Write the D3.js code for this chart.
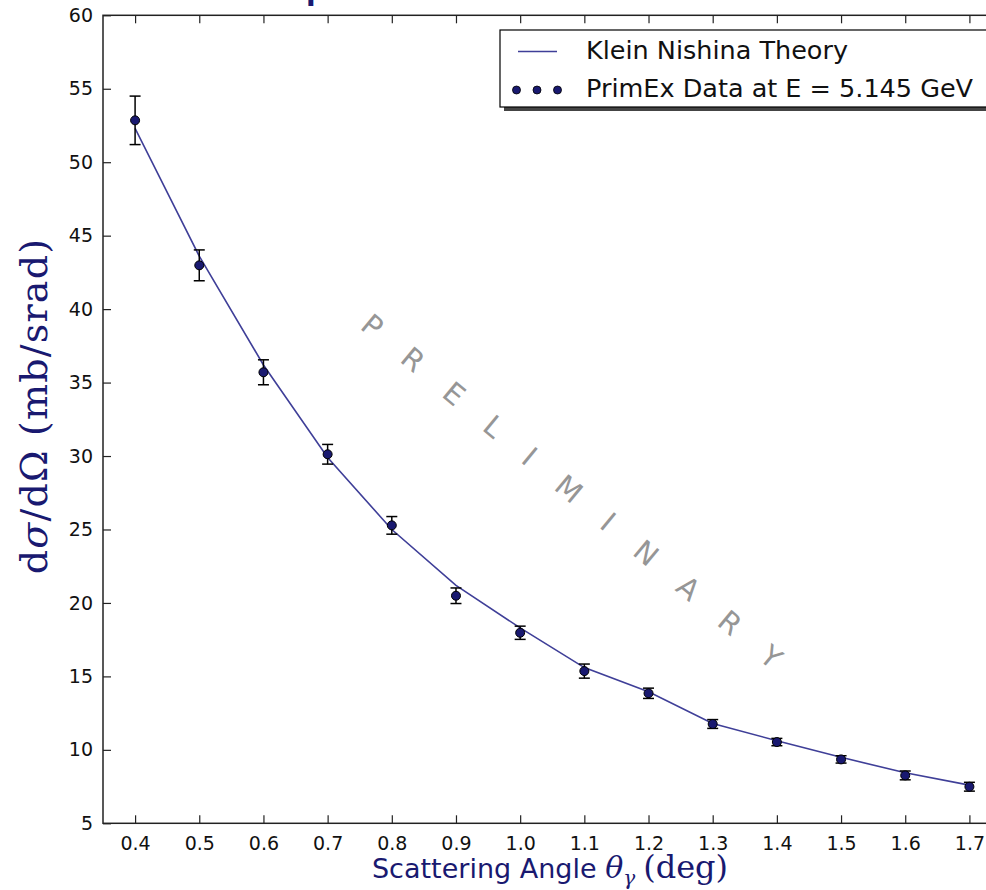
<!DOCTYPE html>
<html>
<head>
<meta charset="utf-8">
<script src="https://cdn.jsdelivr.net/npm/d3@7"></script>
<style>
  html, body { margin: 0; padding: 0; background: #fff; overflow: hidden; }
  svg { display: block; }
</style>
</head>
<body>
<svg id="chart" width="986" height="890"></svg>
<script>
// Scattering angles (deg)
const angles = [0.4, 0.5, 0.6, 0.7, 0.8, 0.9, 1.0, 1.1, 1.2, 1.3, 1.4, 1.5, 1.6, 1.7];
// Measured dσ/dΩ (mb/srad) and their errors
const dataValues = [52.85, 42.98, 35.70, 30.12, 25.28, 20.49, 17.97, 15.36, 13.85, 11.76, 10.53, 9.35, 8.26, 7.49];
const dataErrors = [1.65, 1.05, 0.85, 0.67, 0.60, 0.53, 0.45, 0.48, 0.35, 0.30, 0.25, 0.25, 0.30, 0.30];
// Klein-Nishina prediction at the same angles
const theoryValues = [52.3, 43.6, 36.2, 29.9, 25.0, 21.2, 18.3, 15.6, 13.95, 11.8, 10.62, 9.49, 8.44, 7.60];
// Axis ticks
const xTicks = [0.4, 0.5, 0.6, 0.7, 0.8, 0.9, 1.0, 1.1, 1.2, 1.3, 1.4, 1.5, 1.6, 1.7];
const yTicks = [5, 10, 15, 20, 25, 30, 35, 40, 45, 50, 55, 60];
const xDomain = [0.35, 1.75];
const yDomain = [5, 60];

const legendLabels = ["Klein Nishina Theory", "PrimEx Data at E = 5.145 GeV"];
const watermark = "P R E L I M I N A R Y";
const titleText = "Compton Cross Section";

const svg = d3.select("#chart");
const plot = { left: 103, top: 15.3, right: 1001.5, bottom: 823.3 };

const x = d3.scaleLinear().domain(xDomain).range([plot.left, plot.right]);
const y = d3.scaleLinear().domain(yDomain).range([plot.bottom, plot.top]);

const navy = "#191970";
const lineColor = "#3f3f98";

// title, sitting above the visible frame
const title = svg.append("text")
  .attr("y", 0)
  .attr("font-family", "DejaVu Sans")
  .attr("font-weight", "bold")
  .attr("font-size", 28)
  .attr("fill", navy)
  .text(titleText);
const comWidth = title.node().getSubStringLength(0, 3);
title.attr("x", 306 - comWidth);

// watermark
svg.append("text")
  .attr("transform", "translate(359,328) rotate(39.7)")
  .attr("font-family", "DejaVu Sans")
  .attr("font-size", 29)
  .attr("letter-spacing", 12.5)
  .attr("fill", "#969696")
  .text(watermark);

// theory curve
const line = d3.line().x((d, i) => x(angles[i])).y(d => y(d));
svg.append("path")
  .datum(theoryValues)
  .attr("d", line)
  .attr("fill", "none")
  .attr("stroke", lineColor)
  .attr("stroke-width", 1.6);

// error bars
const pts = angles.map((a, i) => ({ a, v: dataValues[i], e: dataErrors[i] }));
const eb = svg.append("g").attr("stroke", "#000").attr("stroke-width", 1.5);
eb.selectAll("line.v").data(pts).join("line")
  .attr("x1", d => x(d.a)).attr("x2", d => x(d.a))
  .attr("y1", d => y(d.v + d.e)).attr("y2", d => y(d.v - d.e));
eb.selectAll("line.t").data(pts).join("line")
  .attr("x1", d => x(d.a) - 5.5).attr("x2", d => x(d.a) + 5.5)
  .attr("y1", d => y(d.v + d.e)).attr("y2", d => y(d.v + d.e));
eb.selectAll("line.b").data(pts).join("line")
  .attr("x1", d => x(d.a) - 5.5).attr("x2", d => x(d.a) + 5.5)
  .attr("y1", d => y(d.v - d.e)).attr("y2", d => y(d.v - d.e));

// data markers
svg.append("g").selectAll("circle").data(pts).join("circle")
  .attr("cx", d => x(d.a)).attr("cy", d => y(d.v)).attr("r", 4.5)
  .attr("fill", navy).attr("stroke", "#000").attr("stroke-width", 1);

// axes with inward ticks on all four sides
const tickFont = g => g.selectAll("text")
  .attr("font-family", "DejaVu Sans").attr("font-size", 19).attr("fill", "#111");
const styleAxis = g => {
  g.select(".domain").remove();
  g.selectAll(".tick line").attr("stroke", "#222").attr("stroke-width", 1.2);
};

svg.append("g").attr("transform", `translate(0,${plot.bottom})`)
  .call(d3.axisBottom(x).tickValues(xTicks).tickFormat(d3.format(".1f")).tickSize(-8).tickPadding(13))
  .call(styleAxis).call(tickFont);
svg.append("g").attr("transform", `translate(0,${plot.top})`)
  .call(d3.axisTop(x).tickValues(xTicks).tickFormat("").tickSize(-8))
  .call(styleAxis);
svg.append("g").attr("transform", `translate(${plot.left},0)`)
  .call(d3.axisLeft(y).tickValues(yTicks).tickFormat(d3.format("d")).tickSize(-8).tickPadding(10))
  .call(styleAxis).call(tickFont);
svg.append("g").attr("transform", `translate(${plot.right},0)`)
  .call(d3.axisRight(y).tickValues(yTicks).tickFormat("").tickSize(-8))
  .call(styleAxis);

// frame
svg.append("rect")
  .attr("x", plot.left).attr("y", plot.top)
  .attr("width", plot.right - plot.left).attr("height", plot.bottom - plot.top)
  .attr("fill", "none").attr("stroke", "#222").attr("stroke-width", 1.5);

// legend with drop shadow
const lg = svg.append("g");
const lb = { x: 500, y: 30, w: 491, h: 77 };
lg.append("rect").attr("x", lb.x + 4).attr("y", lb.y + 4).attr("width", lb.w).attr("height", lb.h)
  .attr("fill", "#444");
lg.append("rect").attr("x", lb.x).attr("y", lb.y).attr("width", lb.w).attr("height", lb.h)
  .attr("fill", "#fff").attr("stroke", "#000").attr("stroke-width", 1.2);
lg.append("line").attr("x1", 518).attr("x2", 557).attr("y1", 51.5).attr("y2", 51.5)
  .attr("stroke", lineColor).attr("stroke-width", 1.6);
lg.selectAll("circle").data([516.5, 537, 557.5]).join("circle")
  .attr("cx", d => d).attr("cy", 90).attr("r", 4)
  .attr("fill", navy).attr("stroke", "#000").attr("stroke-width", 0.8);
lg.selectAll("text").data(legendLabels).join("text")
  .attr("x", 586).attr("y", (d, i) => 59 + i * 38)
  .attr("font-family", "DejaVu Sans").attr("font-size", 25.5).attr("fill", "#111")
  .text(d => d);

// x label
const xl = svg.append("text")
  .attr("x", 550).attr("y", 878).attr("text-anchor", "middle")
  .attr("fill", navy);
xl.append("tspan").attr("font-family", "DejaVu Sans").attr("font-size", 27).text("Scattering Angle ");
xl.append("tspan").attr("font-family", "DejaVu Serif").attr("font-style", "italic").attr("font-size", 30).text("θ");
xl.append("tspan").attr("font-family", "DejaVu Serif").attr("font-style", "italic").attr("font-size", 20).attr("dy", 7).text("γ");
xl.append("tspan").attr("font-family", "DejaVu Serif").attr("font-size", 32).attr("dy", -7).attr("dx", 8).text("(deg)");

// y label
const yl = svg.append("text")
  .attr("transform", "translate(47,406) rotate(-90)")
  .attr("text-anchor", "middle")
  .attr("font-family", "DejaVu Serif").attr("font-size", 38)
  .attr("letter-spacing", 1.2)
  .attr("fill", navy);
yl.append("tspan").text("d");
yl.append("tspan").attr("font-style", "italic").text("σ");
yl.append("tspan").text("/dΩ (mb/srad)");
</script>
</body>
</html>
